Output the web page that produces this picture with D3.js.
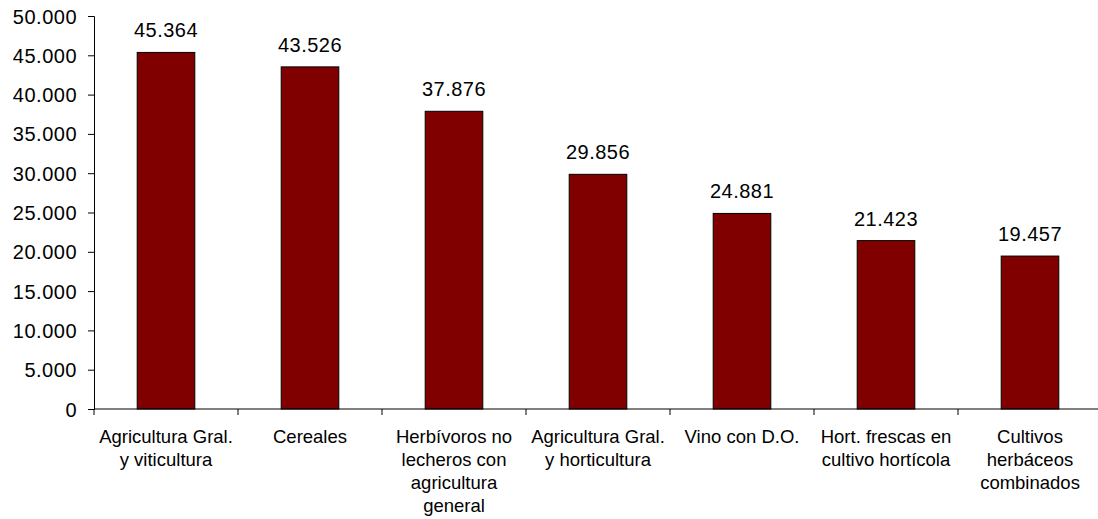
<!DOCTYPE html>
<html lang="es">
<head>
<meta charset="utf-8">
<script src="https://cdn.jsdelivr.net/npm/d3@7"></script>
<style>
  body { margin: 0; background: #fff; }
  text { font-family: "Liberation Sans", Arial, sans-serif; fill: #000; }
</style>
</head>
<body>
<svg id="chart" width="1098" height="519"></svg>
<script>

const categories = [
  "Agricultura Gral. y viticultura",
  "Cereales",
  "Herbívoros no lecheros con agricultura general",
  "Agricultura Gral. y horticultura",
  "Vino con D.O.",
  "Hort. frescas en cultivo hortícola",
  "Cultivos herbáceos combinados"
];
// line breaks as in the picture
const labelLines = [
  ["Agricultura Gral.", "y viticultura"],
  ["Cereales"],
  ["Herbívoros no", "lecheros con", "agricultura", "general"],
  ["Agricultura Gral.", "y horticultura"],
  ["Vino con D.O."],
  ["Hort. frescas en", "cultivo hortícola"],
  ["Cultivos", "herbáceos", "combinados"]
];
const values = [45364, 43526, 37876, 29856, 24881, 21423, 19457];
const yTicks = [0, 5000, 10000, 15000, 20000, 25000, 30000, 35000, 40000, 45000, 50000];

const svg = d3.select("#chart");
const mLeft = 94, mRight = 1102, mTop = 16, mBottom = 409;

const fmt = d3.formatLocale({decimal: ",", thousands: ".", grouping: [3], currency: ["", "€"]}).format(",d");

const x = d3.scaleBand().domain(categories).range([mLeft, mRight]).padding(0);
const y = d3.scaleLinear().domain([0, 50000]).range([mBottom, mTop]);

// y axis
const yAxis = svg.append("g")
  .attr("transform", `translate(${mLeft},0)`)
  .call(d3.axisLeft(y).tickValues(yTicks).tickFormat(fmt).tickSizeOuter(0).tickSize(6).tickPadding(11));
yAxis.selectAll("text")
  .style("font-size", "20px")
  .style("letter-spacing", "0.5px")
  .attr("dy", "0.35em");

// bars
const barW = x.bandwidth() * 0.4;
svg.selectAll(".bar")
  .data(values)
  .join("rect")
  .attr("class", "bar")
  .attr("x", (d, i) => x(categories[i]) + (x.bandwidth() - barW) / 2)
  .attr("y", d => y(d))
  .attr("width", barW)
  .attr("height", d => mBottom - y(d))
  .attr("fill", "#800000")
  .attr("stroke", "#000")
  .attr("stroke-width", 1);

// value labels
svg.selectAll(".val")
  .data(values)
  .join("text")
  .attr("class", "val")
  .attr("x", (d, i) => x(categories[i]) + x.bandwidth() / 2)
  .attr("y", d => y(d) - 15)
  .attr("text-anchor", "middle")
  .style("font-size", "20px")
  .style("letter-spacing", "0.5px")
  .text(d => fmt(d));

// x axis line and category separators
const xg = svg.append("g");
xg.append("line")
  .attr("x1", mLeft).attr("x2", mRight)
  .attr("y1", mBottom).attr("y2", mBottom)
  .attr("stroke", "#000");
xg.selectAll(".sep")
  .data(categories)
  .join("line")
  .attr("class", "sep")
  .attr("x1", d => x(d)).attr("x2", d => x(d))
  .attr("y1", mBottom).attr("y2", mBottom + 6)
  .attr("stroke", "#000");

// category labels
const lab = xg.selectAll(".lab")
  .data(categories)
  .join("text")
  .attr("class", "lab")
  .attr("text-anchor", "middle")
  .style("font-size", "18.5px")
  .attr("transform", d => `translate(${x(d) + x.bandwidth() / 2},${mBottom + 34})`);
lab.selectAll("tspan")
  .data((d, i) => labelLines[i])
  .join("tspan")
  .attr("x", 0)
  .attr("y", (d, j) => j * 23)
  .text(d => d);

</script>
</body>
</html>
